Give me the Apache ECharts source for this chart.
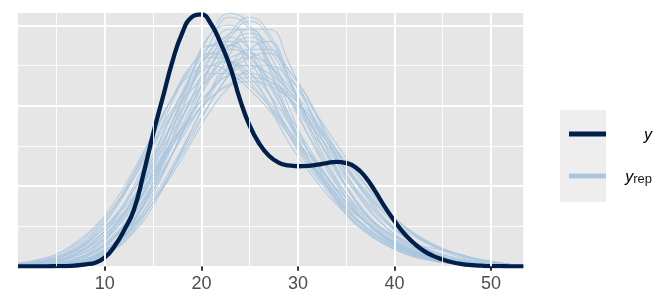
<!DOCTYPE html>
<html><head><meta charset="utf-8">
<script src="https://cdn.jsdelivr.net/npm/echarts@6/dist/echarts.min.js"></script>
<style>html,body{margin:0;padding:0;background:#fff}#c{width:672px;height:307px}</style>
</head><body><div id="c"></div>
<script>
// x-axis ticks and grid positions
const xTicks = [10, 20, 30, 40, 50];
const xMinorGrid = [5, 15, 25, 35, 45];

// observed y density (density x 1000)
const yX = [1,2,3,4,5,6,7,8,9,10,11,12,13,14,15,16,17,18,19,20,21,22,23,24,25,26,27,28,29,30,31,32,33,34,35,36,37,38,39,40,41,42,43,44,45,46,47,48,49,50,51,52,53,53.35];
const yDensity = [0,0,0,0,0.02,0.05,0.2,0.5,0.9,2.2,5,9,14,23,33,42,51,58,62,62.7,60.3,55.5,49.5,41.5,35,30.5,27.5,25.8,25.1,24.9,25,25.3,25.7,26,25.7,24.6,22.2,18.7,14.8,11.3,8.2,5.8,3.9,2.6,1.7,1,0.55,0.3,0.15,0.05,0.02,0,0,0];

// replicated yrep densities (density x 1000)
const yrepX = [1,3,5,7,9,11,13,15,17,19,21,23,25,27,29,31,33,35,37,39,41,43,45,47,49,51,52.2,53.35];
const yrepDensities = [
  [0.1,0.2,0.5,1.2,3,7,14,24,36,48,58,63,60,50,38,27,20.5,13.5,9,5.5,3.2,1.8,0.9,0.4,0.2,0.1,0.05,0],
  [0,0.1,0.3,0.9,2.5,6,12,20,30,40,50,57,61,57,47,36,26,18,12,7.5,4.5,2.6,1.4,0.7,0.3,0.1,0.05,0],
  [0.6,1.4,3,6,10,16,24,33,42,49,52,51,47,41,34,27,21,15,11,7,4.5,2.8,1.6,0.9,0.4,0.2,0.1,0.05],
  [0.3,0.7,1.5,3,6,10,16,23,31,38,44,47.5,48,46,42,36,30,24,18.5,13.5,9.5,6.5,4.2,2.6,1.5,0.8,0.4,0.2],
  [0.2,0.5,1.2,2.6,5,9.5,17,27,38,48,55,56,51,43,34,26,19.5,14,10,6.5,4,2.3,1.2,0.6,0.3,0.1,0.05,0],
  [0,0.1,0.4,1,2.2,5.5,10.5,17,25,34,43,50,54,54,48,40,31,22,15,10,6.5,4,2.4,1.4,0.8,0.4,0.2,0.1],
  [0.4,1,2,4,7.5,12.5,19,27,35,42,47,50,50,47,42,35,28,21.5,16,11,7.5,4.8,3,1.8,1,0.5,0.2,0.1],
  [0.1,0.3,0.7,1.6,3.5,7,13,21,31,42,52,58,59,53,43,33,24,17,11.5,7.5,4.6,2.7,1.5,0.8,0.4,0.2,0.1,0],
  [0.3,0.8,1.8,4,8,14,22,32,42,50,53,51,46,40,33,26,20,14.5,10,6.5,4,2.4,1.4,0.7,0.3,0.15,0.05,0],
  [0.1,0.3,0.8,1.8,3.8,7.5,13,20,28,36,44,50,52,50,45,39,32,25,18,12,7.5,4.5,2.5,1.3,0.6,0.3,0.1,0],
  [0.2,0.5,1.1,2.5,5.2,10,17,26,36,45,52,54,52,46,38,30,22.5,16,11,7.2,4.5,2.7,1.5,0.8,0.4,0.2,0.1,0],
  [0.5,1.1,2.3,4.3,7.5,12,17.5,24,31,37,42,45,46,45,42,37,31,25,19,14,10,6.8,4.5,2.8,1.6,0.9,0.4,0.2],
  [0,0.1,0.3,0.8,2,5,11,21,34,48,58,60,54,43,33,25,19,13,8.5,5.5,3.2,1.8,1,0.5,0.2,0.1,0,0],
  [0,0.1,0.2,0.6,1.6,4.5,9,16,24,32,41,48,54,56,49,42,32,23,15.5,10,6,3.5,2,1,0.5,0.2,0.1,0],
  [0.8,1.6,3,5.5,9.5,15,22,30,38,44,48,48,45,40,34,28,22,17,12.5,9,6,3.8,2.3,1.3,0.7,0.3,0.1,0.05],
  [0.1,0.3,0.8,1.8,4,8,14,22,32,42,50,55,56,51,42,33,25,18,13,9,6.5,5,4,2.8,1.6,0.8,0.3,0.1],
  [0.4,1,2.2,4.5,8.5,14.5,23,33,42,48,50,48,44,39,33,27,21,15.5,11,7.5,5,3,1.7,0.9,0.4,0.2,0.1,0],
  [0,0.2,0.5,1.2,2.8,6,11.5,19,28,38,48,55,58,55,47,37,27.5,19.5,13,8.5,5.2,3,1.7,0.9,0.4,0.2,0.1,0],
  [0.1,0.3,0.8,2,4.5,9,16,25.5,36,46,54,57,54,46,36,27,20,14,9.5,6.2,3.8,2.2,1.2,0.6,0.3,0.1,0.05,0],
  [0,0.1,0.4,1,2.4,5.5,10,16,23,31,39,45,49,50,47,41,34,27,20.5,14.5,10,6.3,3.8,2.2,1.2,0.6,0.3,0.1],
  [0,0.1,0.3,0.8,2.2,5.2,11,20,32,45,56,62,59,49,37,27,20,13,8.5,5.5,3.3,1.9,1,0.5,0.2,0.1,0,0],
  [0.2,0.6,1.4,3,5.8,10.5,17,25,33.5,41,48,52,53,50,44,37,29.5,22.5,16.5,11.5,7.6,4.8,2.9,1.6,0.8,0.4,0.2,0.1],
  [0,0.1,0.3,0.8,2,4.8,10,18,28,39,50,58,62,58,47,35,25,17,11,7,4.2,2.4,1.3,0.6,0.3,0.1,0.05,0],
  [0.5,1.2,2.5,5,9,15,23,31,39,46,50,51,48,43,36,29,22,16,11,7.2,4.6,2.8,1.6,0.9,0.5,0.2,0.1,0],
  [0,0.1,0.2,0.7,1.8,4.2,8.5,15,24,34,44,53,59,59,51,40,29,20,13,8,5,3,1.7,0.9,0.4,0.2,0.1,0],
  [0.3,0.7,1.6,3.4,6.5,11.5,19,28,38,47,53,55,52,45,37,29,22,16,11,7,4.3,2.5,1.4,0.7,0.3,0.1,0.05,0],
  [0,0.1,0.4,1.1,2.7,6,11.5,19,28,38,47,54,57,54,46,37,28,20,13.5,8.8,5.5,3.2,1.8,0.9,0.4,0.2,0.1,0],
  [0.2,0.5,1.2,2.6,5,9,15,22,30,38,44,48,50,48,44,38,31,24,18,13,9,6.2,4.2,2.7,1.6,0.9,0.4,0.2],
  [0.2,0.6,1.4,3.2,6.5,12,20,30,41,50,55,55,49,40,31,24,18,13,9,6,3.8,2.2,1.2,0.6,0.3,0.1,0.05,0],
  [0,0.1,0.3,0.9,2.2,5,9.5,16,24,33,41,48,52,53,49,42,33,25,17.5,11.5,7.2,4.3,2.4,1.3,0.6,0.3,0.1,0],
  [0.1,0.2,0.6,1.5,3.6,7.5,14,23,34,45,54,59,59,51,40,29,21,14.5,9.5,6,3.6,2.1,1.1,0.5,0.2,0.1,0.05,0],
  [0.4,0.9,2,3.8,6.8,11,16.5,23,30,36.5,42,45.5,47,46,43,38,32,26,20,14.5,10,6.8,4.3,2.6,1.5,0.8,0.4,0.2]
];

const legendNames = ['y', 'yrep'];

const chart = echarts.init(document.getElementById('c'), null, {renderer: 'canvas'});

const gridMarks = [
  ...xMinorGrid.map(v => ({xAxis: v, lineStyle: {width: 0.9}})),
  ...xTicks.map(v => ({xAxis: v, lineStyle: {width: 1.9}}))
];

const series = [{
  type: 'line', name: 'grid', data: [[1, 0]], symbol: 'none', silent: true, z: 1,
  lineStyle: {opacity: 0},
  markLine: {silent: true, symbol: ['none', 'none'], label: {show: false}, animation: false,
    lineStyle: {color: '#ffffff', type: 'solid'}, emphasis: {disabled: true}, data: gridMarks}
}];
yrepDensities.forEach(d => {
  series.push({
    type: 'line', name: 'yrep', data: yrepX.map((x, i) => [x, d[i]]), smooth: 0.5,
    symbol: 'none', silent: true, z: 3,
    lineStyle: {color: '#a9c6de', width: 1.1, opacity: 0.8}
  });
});
series.push({
  type: 'line', name: 'y', data: yX.map((x, i) => [x, yDensity[i]]), smooth: 0.5,
  symbol: 'none', silent: true, z: 4,
  lineStyle: {color: '#011f4b', width: 4.3}
});

chart.setOption({
  animation: false,
  graphic: [
    {type: 'rect', left: 560, top: 110, shape: {width: 46, height: 92}, style: {fill: '#eeeeee'}, z: -1, silent: true}
  ],
  grid: {left: 18, top: 12, width: 505.3, height: 254.3, show: true, backgroundColor: '#e6e6e6', borderWidth: 0},
  legend: {
    orient: 'vertical', left: 564, top: 123, itemWidth: 37, itemHeight: 5, itemGap: 26,
    icon: 'rect', selectedMode: false,
    data: [
      {name: legendNames[0], itemStyle: {color: '#011f4b', opacity: 1}},
      {name: legendNames[1], itemStyle: {color: '#a9c6de', opacity: 1}}
    ],
    formatter: n => n === 'y' ? '{y|y}' : '{y|y}{s|rep}',
    textStyle: {
      width: 41,
      rich: {
        y: {fontFamily: 'Liberation Sans', fontStyle: 'italic', fontSize: 16, color: '#000000', align: 'right', lineHeight: 20, verticalAlign: 'bottom'},
        s: {fontFamily: 'Liberation Sans', fontSize: 13, color: '#1a1a1a', align: 'right', lineHeight: 20, verticalAlign: 'bottom'}
      }
    }
  },
  xAxis: {
    type: 'value', min: 1.0, max: 53.35,
    axisLine: {show: false}, splitLine: {show: false},
    axisTick: {show: true, customValues: xTicks, length: 4.5, lineStyle: {color: '#333333', width: 2}},
    axisLabel: {customValues: xTicks, color: '#4d4d4d', fontSize: 18, fontFamily: 'Liberation Sans', margin: 9}
  },
  yAxis: {
    type: 'value', min: 0, max: 63.3, interval: 20,
    axisLabel: {show: false}, axisTick: {show: false}, axisLine: {show: false},
    splitLine: {show: true, lineStyle: {color: '#ffffff', width: 1.9}},
    minorTick: {show: false, splitNumber: 2},
    minorSplitLine: {show: true, lineStyle: {color: '#ffffff', width: 0.9}}
  },
  series: series
});
</script></body></html>
